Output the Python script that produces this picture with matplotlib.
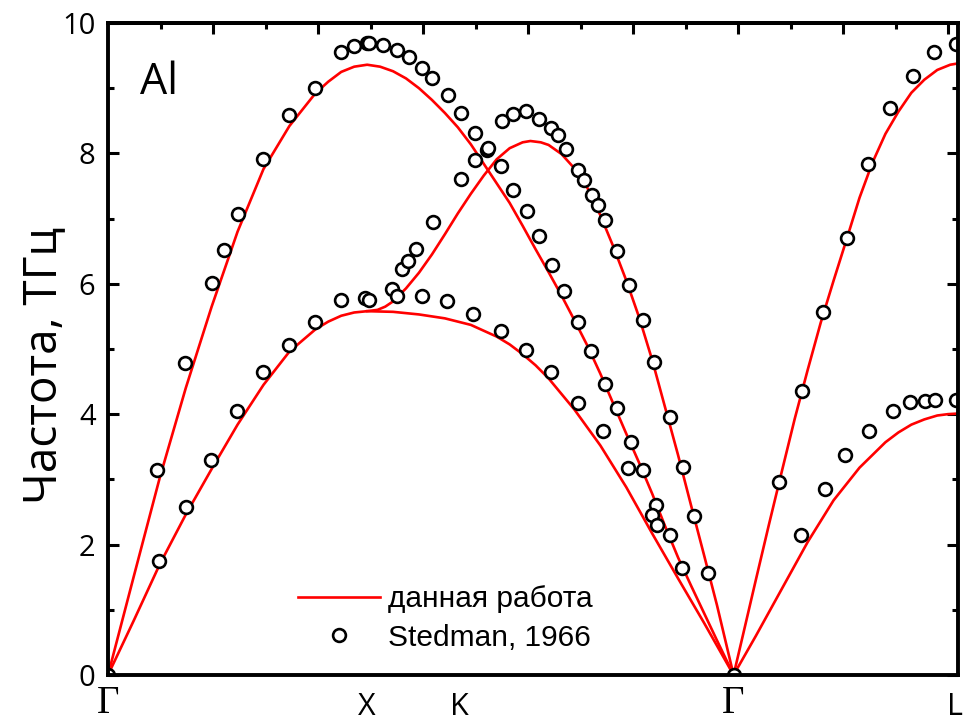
import matplotlib
matplotlib.use("Agg")
import matplotlib.pyplot as plt
import matplotlib.transforms as mtransforms
from matplotlib.ticker import MultipleLocator, NullFormatter
from matplotlib.lines import Line2D

# high-symmetry points (path length units)
sym_pos = [0.0, 1.0, 1.354, 2.414, 3.280]
sym_labels = ["Γ", "X", "K", "Γ", "L"]

# ---- calculated curves (данная работа) ----
# Gamma-X (longitudinal) then X-K-Gamma upper branch
c1_x = [0.0, 0.1, 0.2, 0.3, 0.4, 0.5, 0.6, 0.7, 0.8, 0.85, 0.9, 0.95, 1.0,
        1.05, 1.1, 1.15, 1.2, 1.25, 1.3, 1.35, 1.4, 1.45, 1.5, 1.55, 1.6, 1.65, 1.7, 1.75,
        1.8, 1.85, 1.9, 1.95, 2.0, 2.05, 2.1, 2.15, 2.2, 2.25, 2.3, 2.35, 2.414]
c1_y = [0.0, 1.52, 3.03, 4.40, 5.65, 6.80, 7.76, 8.42, 8.92, 9.10, 9.25, 9.33, 9.36,
        9.33, 9.26, 9.15, 9.00, 8.82, 8.62, 8.40, 8.14, 7.84, 7.54, 7.24, 6.89, 6.53, 6.18, 5.82,
        5.44, 5.05, 4.62, 4.16, 3.70, 3.25, 2.78, 2.28, 1.80, 1.37, 0.95, 0.53, 0.0]
# Gamma-X (transverse) then X-K-Gamma middle branch (with maximum)
c2_x = [0.0, 0.1, 0.2, 0.3, 0.4, 0.5, 0.6, 0.7, 0.8, 0.85, 0.9, 0.95, 1.0,
        1.04, 1.07, 1.1, 1.15, 1.2, 1.25, 1.3, 1.35, 1.4, 1.45, 1.5, 1.55, 1.6, 1.63, 1.67,
        1.7, 1.75, 1.8, 1.85, 1.9, 1.95, 2.0, 2.05, 2.1, 2.15, 2.2, 2.25, 2.3, 2.35, 2.414]
c2_y = [0.0, 0.84, 1.70, 2.46, 3.16, 3.84, 4.45, 4.96, 5.30, 5.42, 5.51, 5.56, 5.58,
        5.60, 5.65, 5.73, 5.93, 6.17, 6.45, 6.76, 7.08, 7.38, 7.66, 7.91, 8.08, 8.17, 8.19, 8.17,
        8.13, 7.99, 7.77, 7.47, 7.05, 6.57, 6.05, 5.48, 4.83, 4.10, 3.37, 2.60, 1.84, 1.07, 0.0]
# X-K-Gamma lower branch
c3_x = [1.0, 1.1, 1.2, 1.3, 1.4, 1.5, 1.55, 1.6, 1.65, 1.7, 1.8, 1.9, 2.0, 2.1, 2.2, 2.3, 2.414]
c3_y = [5.58, 5.57, 5.53, 5.47, 5.37, 5.19, 5.07, 4.92, 4.75, 4.55, 4.07, 3.52, 2.88, 2.17, 1.48, 0.80, 0.0]
# Gamma-L longitudinal
c4_x = [2.414, 2.45, 2.5, 2.55, 2.6, 2.65, 2.7, 2.75, 2.8, 2.85, 2.9, 2.95, 3.0, 3.05,
        3.1, 3.15, 3.2, 3.25, 3.280]
c4_y = [0.0, 0.61, 1.46, 2.30, 3.12, 3.93, 4.68, 5.40, 6.05, 6.68, 7.32, 7.86, 8.30, 8.64,
        8.93, 9.13, 9.28, 9.36, 9.38]
# Gamma-L transverse
c5_x = [2.414, 2.5, 2.6, 2.7, 2.8, 2.9, 3.0, 3.05, 3.1, 3.15, 3.2, 3.24, 3.280]
c5_y = [0.0, 0.60, 1.32, 2.04, 2.68, 3.18, 3.57, 3.72, 3.84, 3.92, 3.98, 4.00, 4.01]

# ---- experiment (Stedman, 1966) ----
exp_x = [0.0,
         0.190, 0.297, 0.401, 0.449, 0.500, 0.598, 0.700, 0.799, 0.899, 0.949, 0.998, 1.007,
         0.198, 0.300, 0.398, 0.499, 0.600, 0.700, 0.799, 0.899, 0.992, 1.009,
         1.060, 1.114, 1.162, 1.213, 1.250, 1.313, 1.361, 1.417, 1.461, 1.515, 1.564, 1.616,
         1.665, 1.712, 1.761, 1.815, 1.863, 1.918, 1.963, 2.018, 2.064, 2.115, 2.169, 2.214,
         1.094, 1.114, 1.133, 1.159, 1.188, 1.256, 1.361, 1.417, 1.468,
         1.519, 1.564, 1.613, 1.663, 1.710, 1.738, 1.767, 1.815, 1.838, 1.867, 1.889, 1.918,
         1.963, 2.012, 2.064, 2.107, 2.169, 2.217, 2.263, 2.317,
         1.210, 1.310, 1.410, 1.515, 1.612, 1.711, 1.815, 1.909, 2.008, 2.100, 2.117,
         2.414,
         2.591, 2.677, 2.758, 2.850, 2.932, 3.018, 3.108, 3.189, 3.273,
         2.673, 2.767, 2.844, 2.938, 3.031, 3.095, 3.151, 3.192, 3.273]
exp_y = [0.0,
         3.14, 4.78, 6.01, 6.52, 7.07, 7.92, 8.59, 9.01, 9.55, 9.64, 9.69, 9.70,
         1.75, 2.57, 3.30, 4.05, 4.64, 5.06, 5.42, 5.75, 5.78, 5.75,
         9.66, 9.59, 9.48, 9.31, 9.16, 8.89, 8.62, 8.32, 8.05, 7.81, 7.44, 7.12,
         6.73, 6.29, 5.89, 5.42, 4.97, 4.47, 4.10, 3.58, 3.15, 2.61, 2.15, 1.64,
         5.92, 5.81, 6.23, 6.35, 6.53, 6.95, 7.61, 7.90, 8.08,
         8.50, 8.61, 8.65, 8.53, 8.39, 8.28, 8.06, 7.75, 7.59, 7.36, 7.21, 6.98,
         6.51, 5.98, 5.45, 4.80, 3.96, 3.19, 2.44, 1.56,
         5.82, 5.74, 5.54, 5.27, 4.99, 4.65, 4.17, 3.74, 3.17, 2.45, 2.30,
         0.0,
         2.96, 4.36, 5.56, 6.71, 7.83, 8.69, 9.18, 9.55, 9.68,
         2.15, 2.85, 3.38, 3.75, 4.05, 4.19, 4.20, 4.22, 4.22]

y_ticks = [0, 2, 4, 6, 8, 10]

fig = plt.figure(figsize=(9.65, 7.23), dpi=100)
ax = fig.add_axes([108/965, 1-675/723, 850/965, 652/723])

red = "#ff0000"
lw = 1.9
for cx, cy in [(c1_x, c1_y), (c2_x, c2_y), (c3_x, c3_y), (c4_x, c4_y), (c5_x, c5_y)]:
    ax.plot(cx, cy, color=red, lw=lw, zorder=2, solid_joinstyle="round")

ax.plot(exp_x, exp_y, ls="none", marker="o", ms=9.2, mfc="white", mec="black", mew=1.9, zorder=3)

ax.set_xlim(0, sym_pos[-1])
ax.set_ylim(0, 10)

# y axis
ax.set_yticks(y_ticks)
ax.yaxis.set_minor_locator(MultipleLocator(1))
ax.tick_params(axis="y", which="both", direction="in", right=True, left=True, width=2.2)
ax.tick_params(axis="y", which="major", length=8, pad=9)
ax.tick_params(axis="y", which="minor", length=4)
for t in ax.get_yticklabels():
    t.set_fontfamily(["Open Sans", "DejaVu Sans"])
    t.set_fontsize(21)

# bottom labels (high-symmetry points), no tick marks
ax.set_xticks([])
trans = mtransforms.blended_transform_factory(ax.transData, ax.transAxes)
ybot = (675 - 722) / 652
for pos, lab in zip(sym_pos, sym_labels):
    if lab == "Γ":
        ax.text(pos, ybot, lab, transform=trans, ha="center", va="bottom", fontsize=28,
                family=["Liberation Serif", "DejaVu Serif"], clip_on=False)
    else:
        ax.text(pos - (0.012 if lab == "L" else 0.0), ybot, lab, transform=trans,
                ha="center", va="bottom", fontsize=22,
                family=["Open Sans", "DejaVu Sans"], clip_on=False)

# top ticks
step = (958 - 108) / 259.1 / (850 / 52.5)
sec = ax.secondary_xaxis("top")
sec.set_xticks([2 * step * k for k in range(1, 9)])
sec.set_xticks([step * (2 * k - 1) for k in range(1, 9)], minor=True)
sec.xaxis.set_major_formatter(NullFormatter())
sec.tick_params(axis="x", which="both", direction="in", labeltop=False, width=2.2)
sec.tick_params(axis="x", which="major", length=8)
sec.tick_params(axis="x", which="minor", length=4)
sec.spines["top"].set_linewidth(2.8)

for s in ax.spines.values():
    s.set_linewidth(2.8)
    s.set_zorder(5)

ax.set_ylabel("Частота, ТГц", fontsize=33, family=["Open Sans", "DejaVu Sans"])
ax.yaxis.set_label_coords((44 - 108) / 850, (675 - 365) / 652)
ax.yaxis.label.set_va("center")

ax.text(0.038, 0.908, "Al", transform=ax.transAxes, fontsize=31,
        family=["Open Sans", "DejaVu Sans"], ha="left", va="center")

handles = [Line2D([], [], color=red, lw=lw),
           Line2D([], [], ls="none", marker="o", ms=9.2, mfc="white", mec="black", mew=1.9)]
leg = ax.legend(handles, ["данная работа", "Stedman, 1966"], loc="upper left",
                bbox_to_anchor=((298 - 108) / 850, (675 - 585) / 652),
                frameon=False, handlelength=2.75, handletextpad=0.25, labelspacing=0.36,
                borderpad=0, borderaxespad=0,
                prop={"family": ["Liberation Sans", "DejaVu Sans"], "size": 21.5})

fig.savefig("out.png", dpi=100)
